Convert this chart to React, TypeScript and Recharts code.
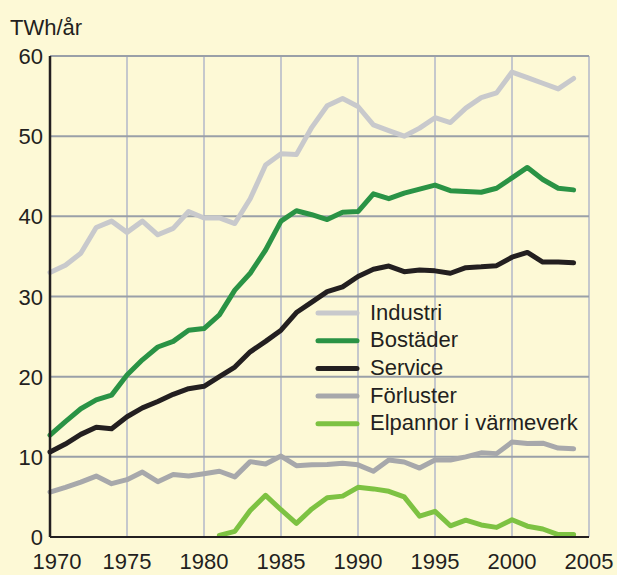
import React from "react";
import { LineChart, Line, XAxis, YAxis, CartesianGrid, Legend } from "recharts";

const years = [1970,1971,1972,1973,1974,1975,1976,1977,1978,1979,1980,1981,1982,1983,1984,1985,1986,1987,1988,1989,1990,1991,1992,1993,1994,1995,1996,1997,1998,1999,2000,2001,2002,2003,2004];
const industri = [33.0,33.9,35.4,38.6,39.4,38.0,39.4,37.7,38.5,40.6,39.8,39.8,39.1,42.2,46.4,47.8,47.7,51.1,53.8,54.7,53.7,51.4,50.7,50.0,51.0,52.3,51.7,53.5,54.8,55.4,58.0,57.3,56.6,55.9,57.2];
const bostader = [12.7,14.4,16.0,17.1,17.7,20.2,22.1,23.7,24.4,25.8,26.0,27.7,30.8,32.9,35.8,39.4,40.7,40.2,39.6,40.5,40.6,42.8,42.2,42.9,43.4,43.9,43.2,43.1,43.0,43.5,44.8,46.1,44.6,43.5,43.3];
const service = [10.6,11.6,12.8,13.7,13.5,15.0,16.1,16.9,17.8,18.5,18.8,20.0,21.2,23.1,24.4,25.8,28.0,29.3,30.6,31.2,32.5,33.4,33.8,33.1,33.3,33.2,32.9,33.6,33.7,33.85,34.9,35.5,34.3,34.3,34.2];
const forluster = [5.6,6.2,6.85,7.6,6.65,7.15,8.1,6.9,7.8,7.6,7.9,8.2,7.5,9.4,9.1,10.1,8.9,9.0,9.05,9.2,9.0,8.2,9.6,9.35,8.6,9.6,9.6,10.0,10.5,10.4,11.85,11.65,11.7,11.1,11.0];
const elpannor: (number | null)[] = [null,null,null,null,null,null,null,null,null,null,null,0.2,0.7,3.3,5.2,3.4,1.7,3.5,4.9,5.1,6.2,6.0,5.7,5.0,2.6,3.2,1.4,2.1,1.5,1.2,2.15,1.35,1.0,0.3,0.3];

const xTicks = [1970,1975,1980,1985,1990,1995,2000,2005];
const yTicks = [0,10,20,30,40,50,60];
const yUnit = "TWh/år";

const seriesOrder = ["industri", "bostader", "service", "forluster", "elpannor"];
const seriesNames: Record<string, string> = {
  industri: "Industri",
  bostader: "Bostäder",
  service: "Service",
  forluster: "Förluster",
  elpannor: "Elpannor i värmeverk",
};
const seriesColors: Record<string, string> = {
  industri: "#c8c9cc",
  bostader: "#2a9345",
  service: "#231f20",
  forluster: "#a7a8ab",
  elpannor: "#7dc242",
};

const data = years.map((year, i) => ({
  year,
  industri: industri[i],
  bostader: bostader[i],
  service: service[i],
  forluster: forluster[i],
  elpannor: elpannor[i],
}));

const FONT = "'Liberation Sans', Arial, Helvetica, sans-serif";
const TEXT = "#231f20";
const BG = "#fdf9d6";

const XTick = (props: any) => {
  const { x, y, payload, index } = props;
  const shift = index === 0 ? 7 : 0;
  return (
    <text x={x + shift} y={y + 32} textAnchor="middle" fontFamily={FONT} fontSize={22} fill={TEXT}>
      {payload.value}
    </text>
  );
};

const YTick = (props: any) => {
  const { y, payload } = props;
  return (
    <text x={43} y={y + 8} textAnchor="end" fontFamily={FONT} fontSize={22} fill={TEXT}>
      {payload.value}
    </text>
  );
};

const LegendContent = (props: any) => {
  const payload = [...(props.payload || [])].sort(
    (a: any, b: any) => seriesOrder.indexOf(String(a.dataKey)) - seriesOrder.indexOf(String(b.dataKey))
  );
  const rowH = 27.7;
  return (
    <svg width={290} height={150} style={{ display: "block", overflow: "visible" }}>
      {payload.map((p: any, i: number) => {
        const cy = 15 + i * rowH;
        return (
          <g key={i}>
            <line x1={2} x2={41} y1={cy} y2={cy} stroke={p.color} strokeWidth={5} strokeLinecap="round" />
            <text x={54} y={cy + 6.5} fontFamily={FONT} fontSize={22} fill={TEXT}>
              {p.value}
            </text>
          </g>
        );
      })}
    </svg>
  );
};

export default function App() {
  const lineCommon = {
    type: "linear" as const,
    dot: false,
    activeDot: false,
    strokeWidth: 5,
    strokeLinejoin: "round" as const,
    strokeLinecap: "round" as const,
    isAnimationActive: false,
    connectNulls: false,
  };
  return (
    <div style={{ position: "absolute", left: 0, top: 0, width: 617, height: 575, background: BG }}>
      <LineChart width={617} height={575} data={data} margin={{ top: 56, right: 28, left: 8, bottom: 0 }}>
        <CartesianGrid horizontal={false} stroke="#c5c8cc" strokeWidth={2} />
        <CartesianGrid vertical={false} stroke="#9aa0a8" strokeWidth={2} />
        <XAxis
          dataKey="year"
          type="number"
          domain={[1970, 2005]}
          ticks={xTicks}
          interval={0}
          tickSize={0}
          tickMargin={0}
          tickLine={false}
          height={38}
          axisLine={{ stroke: TEXT, strokeWidth: 2 }}
          tick={<XTick />}
        />
        <YAxis
          type="number"
          domain={[0, 60]}
          ticks={yTicks}
          interval={0}
          width={42}
          tickSize={0}
          tickMargin={0}
          tickLine={false}
          axisLine={{ stroke: TEXT, strokeWidth: 2.5 }}
          tick={<YTick />}
          label={{
            content: () => (
              <text x={10} y={35} fontFamily={FONT} fontSize={22} fill={TEXT}>
                {yUnit}
              </text>
            ),
          }}
        />
        <Legend
          layout="vertical"
          align="center"
          verticalAlign="middle"
          content={<LegendContent />}
          wrapperStyle={{ position: "absolute", left: 316, top: 298, width: 290, height: 150 }}
        />
        {seriesOrder.map((key) => (
          <Line key={key} {...lineCommon} dataKey={key} name={seriesNames[key]} stroke={seriesColors[key]} />
        ))}
      </LineChart>
    </div>
  );
}
